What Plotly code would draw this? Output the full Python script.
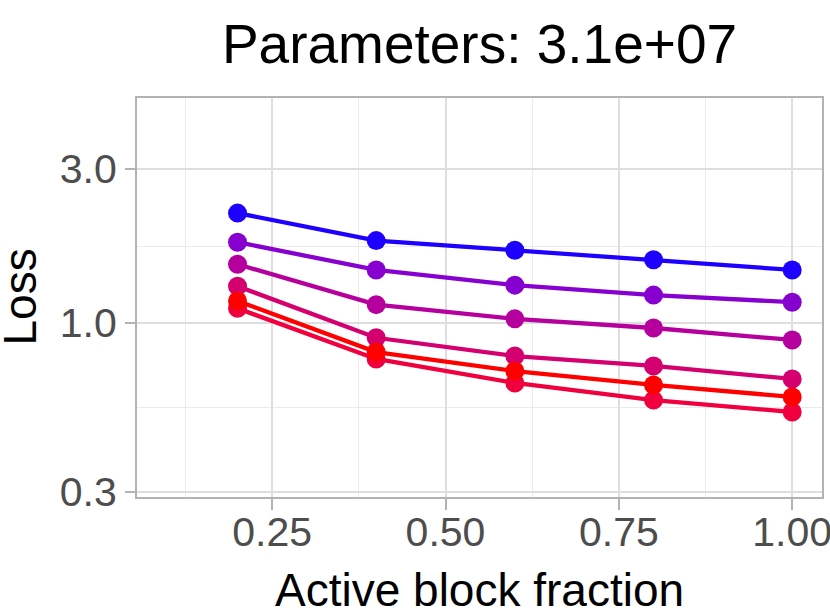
import plotly.graph_objects as go

# Data
fractions = [0.2, 0.4, 0.6, 0.8, 1.0]
series_names = ["s1", "s2", "s3", "s4", "s5", "s6"]
series_colors = ["#1E00FF", "#8600D0", "#B5009E", "#D4006F", "#F0003E", "#FF0000"]
loss_s1 = [2.19, 1.80, 1.68, 1.57, 1.46]
loss_s2 = [1.78, 1.46, 1.31, 1.22, 1.16]
loss_s3 = [1.52, 1.14, 1.03, 0.965, 0.886]
loss_s4 = [1.30, 0.90, 0.79, 0.736, 0.671]
loss_s5 = [1.11, 0.774, 0.652, 0.577, 0.530]
loss_s6 = [1.17, 0.813, 0.710, 0.643, 0.590]
all_losses = [loss_s1, loss_s2, loss_s3, loss_s4, loss_s5, loss_s6]

x_ticks = [0.25, 0.50, 0.75, 1.00]
x_ticktext = ["0.25", "0.50", "0.75", "1.00"]
x_minor = [0.125, 0.375, 0.625, 0.875]
y_ticks = [0.3, 1.0, 3.0]
y_ticktext = ["0.3", "1.0", "3.0"]
y_minor = [0.5477, 1.732]

title_text = "Parameters: 3.1e+07"
x_title = "Active block fraction"
y_title = "Loss"

FONT = "Liberation Sans, Arial, Helvetica, sans-serif"

fig = go.Figure()
# lines first (beneath all points)
for name, col, ys in zip(series_names, series_colors, all_losses):
    fig.add_trace(go.Scatter(x=fractions, y=ys, mode="lines",
                             line=dict(color=col, width=4.3), name=name,
                             showlegend=False, hoverinfo="skip"))
for name, col, ys in zip(series_names, series_colors, all_losses):
    fig.add_trace(go.Scatter(x=fractions, y=ys, mode="markers",
                             marker=dict(color=col, size=19, line=dict(width=0)),
                             name=name, showlegend=False))

W, H = 830, 616
L, R, T, B = 137, 8, 98, 119

fig.update_layout(
    width=W, height=H,
    margin=dict(l=L, r=R, t=T, b=B, autoexpand=False),
    paper_bgcolor="white", plot_bgcolor="white",
    font=dict(family=FONT, color="#4D4D4D"),
    title=dict(text=title_text, x=(L + (W - R)) / 2 / W, xanchor="center",
               y=1 - 44 / H, yanchor="middle", yref="container",
               font=dict(size=55, color="black", family=FONT)),
    xaxis=dict(range=[0.055, 1.043], tickvals=x_ticks, ticktext=x_ticktext,
               showgrid=True, gridcolor="#DEDEDE", gridwidth=2,
               minor=dict(tickvals=x_minor, showgrid=True, gridcolor="#EBEBEB", gridwidth=1, ticks=""),
               ticks="outside", ticklen=11, tickwidth=2, tickcolor="#B3B3B3",
               showline=True, linecolor="#B3B3B3", linewidth=2, mirror=True,
               zeroline=False, tickfont=dict(size=41, color="#4D4D4D", family=FONT),
               ticklabeloverflow="allow", ticklabelstandoff=-13,
               automargin=False),
    yaxis=dict(type="log", range=[-0.539, 0.697], tickvals=y_ticks, ticktext=y_ticktext,
               showgrid=True, gridcolor="#DEDEDE", gridwidth=2,
               minor=dict(tickvals=y_minor, showgrid=True, gridcolor="#EBEBEB", gridwidth=1, ticks=""),
               ticks="outside", ticklen=10, tickwidth=2, tickcolor="#B3B3B3",
               showline=True, linecolor="#B3B3B3", linewidth=2, mirror=True,
               zeroline=False, tickfont=dict(size=41, color="#4D4D4D", family=FONT),
               ticklabeloverflow="allow",
               automargin=False),
    annotations=[
        dict(text=x_title, xref="paper", yref="paper", x=0.5, y=-(590 - 497) / (H - T - B),
             xanchor="center", yanchor="middle", showarrow=False,
             font=dict(size=46, color="black", family=FONT)),
        dict(text=y_title, xref="paper", yref="paper", x=-(137 - 19) / (W - L - R), y=0.5,
             xanchor="center", yanchor="middle", textangle=-90, showarrow=False,
             font=dict(size=46, color="black", family=FONT)),
    ],
)

fig.write_html("out.html", config={"displayModeBar": False},
               post_script="document.body.style.margin='0';document.body.style.overflow='hidden';")
